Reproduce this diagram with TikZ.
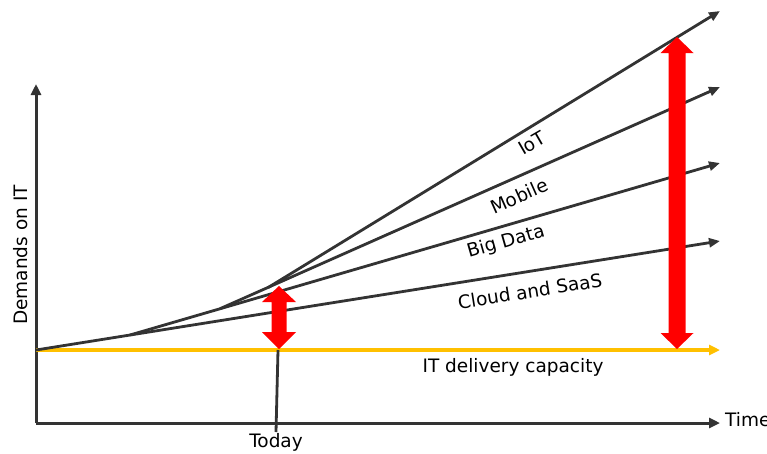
\documentclass[tikz,border=0pt]{standalone}
\usepackage{fontspec}
\setmainfont{DejaVu Sans}
\usetikzlibrary{arrows.meta}
\definecolor{linegray}{HTML}{333333}
\definecolor{capyellow}{HTML}{FFC000}
\definecolor{gapred}{HTML}{FF0000}
\begin{document}
\begin{tikzpicture}[x=1pt,y=-1pt,
  trend/.style={draw=linegray,line width=2.8pt,-{Triangle[length=11pt,width=9pt]}},
  axisline/.style={draw=linegray,line width=3pt},
  lbl/.style={font=\fontsize{18.5}{22}\selectfont,text=black,inner sep=0pt},
  gap/.style={fill=gapred,draw=none}]
\useasboundingbox (0,0) rectangle (767,453);

% key points of the chart
\coordinate (O) at (36,350);
\coordinate (A) at (130,335);
\coordinate (B) at (220,308.7);
\coordinate (C) at (268,287.6);
\coordinate (corner) at (36,423);
\coordinate (ytop) at (36,84);
\coordinate (xend) at (720,423);
\coordinate (capend) at (720,350);
\coordinate (cloudend) at (720,241);
\coordinate (bigend) at (720,163);
\coordinate (mobend) at (720,87);
\coordinate (iotend) at (720,11);
\coordinate (todaytop) at (278,350);
\coordinate (todaybot) at (276,432);

% axes
\draw[axisline,-{Triangle[length=11pt,width=10pt]}] (corner) -- (ytop);
\draw[axisline,-{Triangle[length=11pt,width=10pt]}] (corner) -- (xend);

% capacity line
\draw[draw=capyellow,line width=3.2pt,-{Triangle[length=11pt,width=10pt]},color=capyellow] (O) -- (capend);

% today marker
\draw[draw=linegray,line width=2.8pt] (todaytop) -- (todaybot);

% demand trends
\draw[trend] (O) -- (cloudend);
\draw[trend] (A) -- (bigend);
\draw[trend] (B) -- (mobend);
\draw[trend] (C) -- (iotend);

% gap arrows
\fill[gap] (279,286) -- (296,302) -- (286.5,302) -- (286.5,332) -- (296,332)
  -- (279,349) -- (262,332) -- (271.5,332) -- (271.5,302) -- (262,302) -- cycle;
\fill[gap] (677,37) -- (693.5,53) -- (685.5,53) -- (685.5,333) -- (693.5,333)
  -- (677,349) -- (660.5,333) -- (668.5,333) -- (668.5,53) -- (660.5,53) -- cycle;

% labels
\node[lbl,rotate=30] (iot) at (532,143) {IoT};
\node[lbl,rotate=24] (mob) at (519,196) {Mobile};
\node[lbl,rotate=16] (big) at (506,242) {Big Data};
\node[lbl,rotate=9] (cloud) at (530,291) {Cloud and SaaS};
\node[lbl] (cap) at (513,367) {IT delivery capacity};
\node[lbl] (today) at (276,442) {Today};
\node[lbl,anchor=west] (time) at (725,420) {Time};
\node[lbl,rotate=90] (demands) at (21,255) {Demands on IT};
\end{tikzpicture}
\end{document}
